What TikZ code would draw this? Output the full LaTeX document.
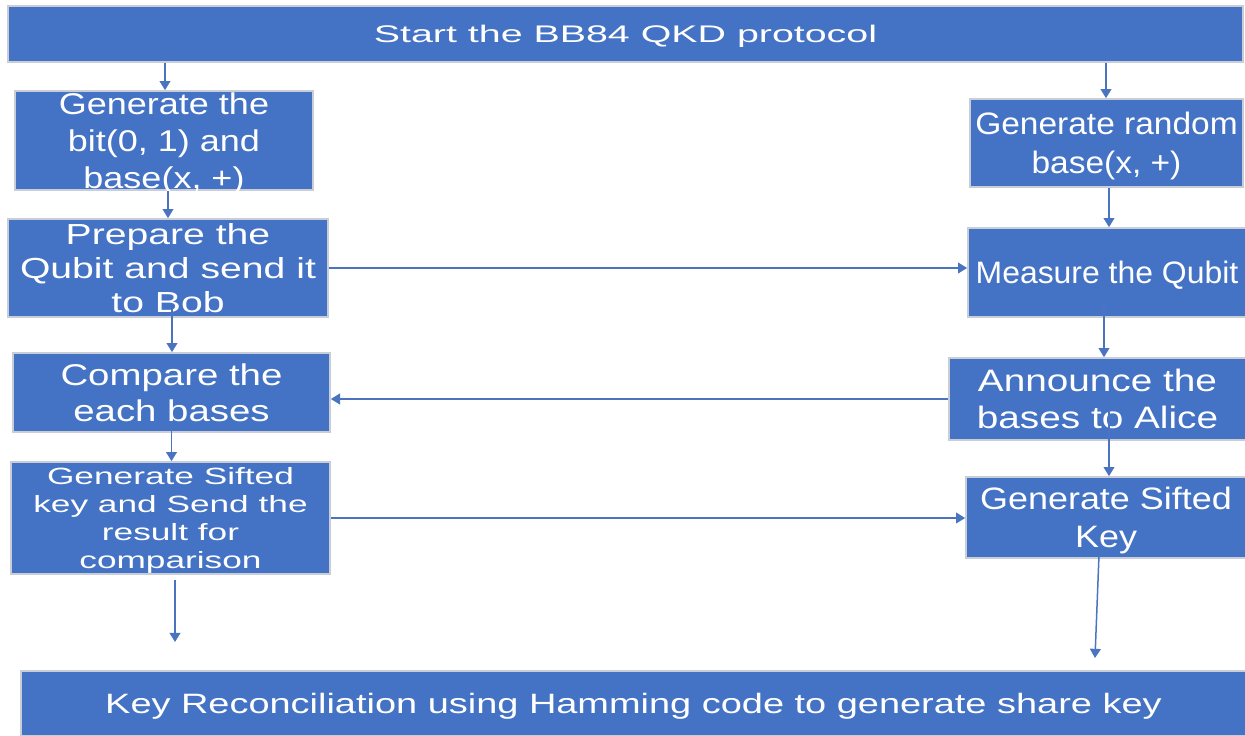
\documentclass[tikz,border=0pt]{standalone}
\usepackage{fontspec}
\setmainfont{Liberation Sans}
\newfontfamily\fTop[FakeStretch=1.64]{Liberation Sans}
\newfontfamily\fAone[FakeStretch=1.2]{Liberation Sans}
\newfontfamily\fAtwo[FakeStretch=1.35]{Liberation Sans}
\newfontfamily\fAthr[FakeStretch=1.28]{Liberation Sans}
\newfontfamily\fAfour[FakeStretch=1.5]{Liberation Sans}
\newfontfamily\fBone[FakeStretch=1.08]{Liberation Sans}
\newfontfamily\fBtwo[FakeStretch=1.03]{Liberation Sans}
\newfontfamily\fBthr[FakeStretch=1.25]{Liberation Sans}
\newfontfamily\fBfour[FakeStretch=1.16]{Liberation Sans}
\newfontfamily\fBot[FakeStretch=1.355]{Liberation Sans}
\usetikzlibrary{arrows.meta}
\definecolor{boxblue}{HTML}{4472C4}
\definecolor{linkblue}{HTML}{4A74C0}
\definecolor{rim}{HTML}{C9CDD6}
\begin{document}
\begin{tikzpicture}[x=0.6pt,y=-0.6pt,
  box/.style={draw=rim,line width=1pt,fill=boxblue,text=white,inner sep=0pt,align=center,text depth=0pt},
  wh/.style 2 args={minimum width=#1*0.6pt,minimum height=#2*0.6pt},
  arr/.style={draw=linkblue,line width=0.9pt,-{Triangle[width=6.5pt,length=5.5pt]}}]
\useasboundingbox (0,0) rectangle (1245,735);
% top and bottom
\node[box,wh={1235}{56},font=\fTop\fontsize{14.4pt}{17pt}\selectfont] (T) at (625.5,34) {Start the BB84 QKD protocol};
\node[box,wh={1225}{65},font=\fBot\fontsize{16.8pt}{20pt}\selectfont] (K) at (633.5,703.5) {Key Reconciliation using Hamming code to generate share key};
% Alice side
\node[box,wh={298}{99},font=\fAone\fontsize{18pt}{22.2pt}\selectfont] (A1) at (164,140.5) {Generate the\\bit(0, 1) and\\base(x, +)};
\node[box,wh={320}{98},font=\fAtwo\fontsize{17.4pt}{20.4pt}\selectfont] (A2) at (168,268) {Prepare the\\Qubit and send it\\to Bob};
\node[box,wh={317}{79},font=\fAthr\fontsize{18pt}{21.6pt}\selectfont] (A3) at (171.5,392.5) {Compare the\\each bases};
\node[box,wh={319}{112},font=\fAfour\fontsize{14.1pt}{16.8pt}\selectfont] (A4) at (170.5,518) {Generate Sifted\\key and Send the\\result for\\comparison};
% Bob side
\node[box,wh={273}{88},font=\fBone\fontsize{18.6pt}{23.4pt}\selectfont] (B1) at (1106.5,143) {Generate random\\base(x, +)};
\node[box,wh={278}{89},font=\fBtwo\fontsize{18.6pt}{22.8pt}\selectfont] (B2) at (1107,272.5) {Measure the Qubit};
\node[box,wh={297}{82},font=\fBthr\fontsize{18.6pt}{22.2pt}\selectfont,text depth=] (B3) at (1097.5,399) {Announce the\\bases to Alice};
\node[box,wh={280}{81},font=\fBfour\fontsize{18.6pt}{22.8pt}\selectfont] (B4) at (1106,517.5) {Generate Sifted\\Key};
% connectors
\draw[arr] (T.south -| 165,0) -- (A1.north -| 165,0);
\draw[arr] (T.south -| 1106,0) -- (B1.north -| 1106,0);
\draw[arr] (A1.south -| 168,0) -- (A2.north -| 168,0);
\draw[arr] (B1.south -| 1109,0) -- (B2.north -| 1109,0);
\draw[arr] (A2.east |- 0,268) -- (B2.west |- 0,268);
\draw[arr] (A2.center |- 0,308) ++(4,0) coordinate (a2s) -- (A3.north -| a2s);
\draw[arr] (B2.center |- 0,300) ++(-3,0) coordinate (b2s) -- (B3.north -| b2s);
\draw[arr] (B3.west |- 0,399) -- (A3.east |- 0,399);
\draw[arr] (A3.center |- 0,425) ++(0,0) coordinate (a3s) -- (A4.north -| a3s);
\draw[arr] (B3.center |- 0,410) ++(11.5,0) coordinate (b3s) -- (B4.north -| b3s);
\coordinate (a4e) at (175,642);
\coordinate (b4e) at (1095,658);
\draw[arr] (A4.south -| 175,0) ++(0,5) -- (a4e);
\draw[arr] (B4.south -| 1099,0) ++(0,-4) -- (b4e);
\draw[arr] (A4.east |- 0,518) -- (B4.west |- 0,518);
\end{tikzpicture}
\end{document}
